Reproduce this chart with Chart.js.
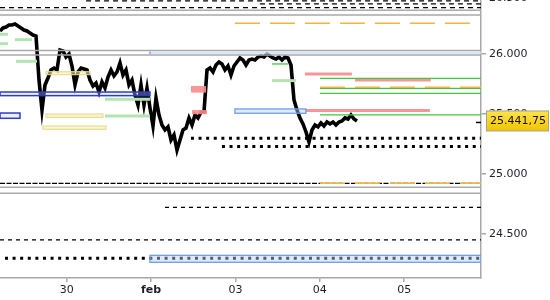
<!DOCTYPE html>
<html>
<head>
<meta charset="utf-8">
<script src="https://cdn.jsdelivr.net/npm/chart.js@4.4.1/dist/chart.umd.min.js"></script>
<style>
  html, body { margin: 0; padding: 0; background: #fff; }
  #wrap { width: 550px; height: 300px; position: relative; }
</style>
</head>
<body>
<div id="wrap"><canvas id="chart" width="550" height="300"></canvas></div>
<script>
// asse x: giorni di contrattazione (0 = 30 gen)
const dayLabels = ['30', 'feb', '03', '04', '05'];
const xMin = -0.79, xMax = 4.91;
const yMin = 24133, yMax = 26450;
const yTicks = [24500, 25000, 25500, 26000];
const topTick = 26500;

// serie prezzi (barre equidistanti)
const barStart = -0.79, barStep = 0.03555;
const prices = [
    26192, 26217, 26225, 26242, 26242, 26250, 26233, 26217, 26200, 26192, 26175, 26158, 26150,
    25783, 25533, 25742, 25800, 25867, 25883, 25867, 26033, 26025, 25975, 26000,
    25900, 25742, 25850, 25883, 25875, 25867, 25783, 25733, 25758, 25683, 25767, 25717, 25808, 25867,
    25817, 25850, 25925, 25825, 25867, 25742, 25783, 25658, 25575, 25742, 25575, 25717, 25550,
    25400, 25633, 25492, 25408, 25367, 25392, 25283, 25325, 25200, 25283, 25367, 25383, 25467, 25408,
    25492, 25467, 25517, 25517,
    25867, 25883, 25850, 25908, 25933, 25917, 25867, 25900, 25825, 25900, 25933, 25967, 25950, 25908,
    25950, 25958, 25950, 25975, 25983, 25975, 26000, 25983, 25967, 25958, 25975, 25950, 25975, 25967,
    25908, 25617, 25533, 25467, 25417, 25350, 25267, 25367, 25408, 25392, 25425, 25400, 25433, 25417,
    25433, 25408, 25433, 25442, 25467, 25458, 25492, 25458, 25441.75
];

// livelli orizzontali [da, a, valore]
const grayLevels = [
    [xMin, xMax, 26364], [xMin, xMax, 26325], [xMin, xMax, 26029],
    [xMin, xMax, 25992], [xMin, xMax, 24889], [xMin, xMax, 24839]
];
const topDashed = [[0.23, xMax, 26442], [2.29, xMax, 26417], [xMin, xMax, 26386]];
const fineDashed = [[xMin, xMax, 24922]];
const dashedLevels = [[1.165, xMax, 24722], [xMin, xMax, 24450]];
const dottedLevels = [[1.473, xMax, 25297], [1.84, xMax, 25228], [-0.731, xMax, 24298]];
const orangeLevels = [[1.994, 4.778, 26256], [3.001, xMax, 25722], [3.001, xMax, 24922]];
const greenLevels = [
    [3.001, xMax, 25797], [3.001, xMax, 25714], [3.001, xMax, 25672],
    [3.001, xMax, 25492], [2.433, 2.622, 25917]
];
const paleGreenLevels = [
    [xMin, -0.696, 26164], [xMin, -0.696, 26086], [-0.613, -0.411, 26119],
    [-0.601, -0.352, 25939], [0.454, 0.987, 25622], [0.454, 0.987, 25483], [2.433, 2.717, 25778]
];
const salmonLevels = [[2.823, 3.38, 25833], [3.416, 4.316, 25783], [2.835, 4.304, 25528]];

// zone [da, a, valore alto, valore basso]
const bandZones = [[0.987, xMax, 26029, 25992]];
const darkBlueZones = [[xMin, 0.987, 25683, 25653], [xMin, -0.553, 25508, 25464]];
const lightBlueZones = [[1.994, 2.835, 25542, 25506], [0.987, xMax, 24322, 24264]];
const yellowZones = [[-0.245, 0.276, 25853, 25828], [-0.245, 0.43, 25500, 25472], [-0.281, 0.466, 25400, 25372]];
const salmonZones = [[1.473, 1.651, 25733, 25678], [1.485, 1.662, 25533, 25498]];

const FONT = 'DejaVu Sans';
const TEXT = '#1e1e2a';
const AXIS = '#a8a8a8';

function fmtThousands(v) {
    return String(v).replace(/\B(?=(\d{3})+(?!\d))/g, '.');
}
function fmtPrice(v) {
    const parts = v.toFixed(2).split('.');
    return fmtThousands(parts[0]) + ',' + parts[1];
}

function segments(list, style) {
    return list.map(([a, b, v]) => Object.assign({
        data: [{ x: a, y: v }, { x: b, y: v }],
        pointRadius: 0,
        borderCapStyle: 'butt',
        fill: false
    }, style));
}

// indice 0 disegnato sopra: livelli prima, prezzo per ultimo
const datasets = [].concat(
    segments(dottedLevels, { borderColor: '#000', borderWidth: 3, borderDash: [3, 4.6] }),
    segments(orangeLevels, { borderColor: '#f4b43a', borderWidth: 1.5, borderDash: [25, 10] }),
    segments(greenLevels, { borderColor: '#46c446', borderWidth: 1.3 }),
    segments(salmonLevels, { borderColor: '#f89696', borderWidth: 3 }),
    segments(paleGreenLevels, { borderColor: '#b2e4b2', borderWidth: 3 }),
    segments(topDashed, { borderColor: '#000', borderWidth: 1.3, borderDash: [5, 4] }),
    segments(fineDashed, { borderColor: '#000', borderWidth: 1.3, borderDash: [5, 1.5] }),
    segments(dashedLevels, { borderColor: '#000', borderWidth: 1.3, borderDash: [4, 4] }),
    segments(grayLevels, { borderColor: '#a9a9a9', borderWidth: 1.5 }),
    [{
        data: prices.map((p, i) => ({ x: barStart + i * barStep, y: p })),
        borderColor: '#000',
        borderWidth: 3.6,
        pointRadius: 0,
        tension: 0,
        borderJoinStyle: 'miter',
        fill: false
    }]
);

const zonesPlugin = {
    id: 'zones',
    afterDatasetsDraw(chart) {
        const { ctx, chartArea, scales } = chart;
        const xs = scales.x, ys = scales.y;
        const rect = z => {
            const x0 = xs.getPixelForValue(z[0]), x1 = xs.getPixelForValue(z[1]);
            const y0 = ys.getPixelForValue(z[2]), y1 = ys.getPixelForValue(z[3]);
            return [x0, y0, x1 - x0, y1 - y0];
        };
        ctx.save();
        ctx.beginPath();
        ctx.rect(chartArea.left, chartArea.top, chartArea.right - chartArea.left, chartArea.bottom - chartArea.top);
        ctx.clip();

        bandZones.forEach(z => {
            const [x, y, w, h] = rect(z);
            ctx.fillStyle = 'rgba(205,220,245,0.75)';
            ctx.fillRect(x, y + 1, w, h - 2);
            ctx.strokeStyle = '#7ea4e6';
            ctx.lineWidth = 1.5;
            ctx.beginPath();
            ctx.moveTo(x, y + 1);
            ctx.lineTo(x, y + h - 1);
            ctx.stroke();
        });
        const boxes = (list, fill, stroke, lw) => list.forEach(z => {
            const [x, y, w, h] = rect(z);
            ctx.fillStyle = fill;
            ctx.fillRect(x, y, w, h);
            if (stroke) {
                ctx.strokeStyle = stroke;
                ctx.lineWidth = lw;
                ctx.strokeRect(x, y, w, h);
            }
        });
        boxes(salmonZones, 'rgba(250,140,140,0.9)', null, 0);
        boxes(yellowZones, 'rgba(245,236,170,0.55)', 'rgba(228,218,140,0.85)', 1.3);
        boxes(darkBlueZones, 'rgba(205,205,245,0.35)', '#2c3ccc', 1.5);
        boxes(lightBlueZones, 'rgba(185,207,245,0.45)', '#6e9de8', 1.3);
        ctx.restore();
    },
    afterDraw(chart) {
        const { ctx, chartArea, scales } = chart;
        const last = prices[prices.length - 1];
        const py = scales.y.getPixelForValue(last);
        ctx.save();
        // tick del prezzo sull'asse
        ctx.strokeStyle = '#000';
        ctx.lineWidth = 1.5;
        ctx.beginPath();
        ctx.moveTo(chartArea.right - 5, py + 1.5);
        ctx.lineTo(chartArea.right, py + 1.5);
        ctx.stroke();
        // etichetta prezzo
        const bx = chartArea.right + 5.5, bw = 62, bh = 20;
        const by = py - 10;
        const g = ctx.createLinearGradient(0, by, 0, by + bh);
        g.addColorStop(0, '#ffe34a');
        g.addColorStop(1, '#f2c400');
        ctx.fillStyle = g;
        ctx.fillRect(bx, by, bw, bh);
        ctx.strokeStyle = '#a0a0a0';
        ctx.lineWidth = 1;
        ctx.strokeRect(bx, by, bw, bh);
        ctx.fillStyle = '#111';
        ctx.font = '11px "' + FONT + '"';
        ctx.textBaseline = 'middle';
        ctx.fillText(fmtPrice(last), bx + 3.5, py + 0.5);
        // etichetta 26.500 tagliata in alto
        ctx.fillStyle = TEXT;
        ctx.fillText(fmtThousands(topTick), chartArea.right + 8, scales.y.getPixelForValue(topTick) + 4);
        ctx.restore();
    }
};

const chart = new Chart(document.getElementById('chart'), {
    type: 'line',
    data: { datasets: datasets },
    options: {
        responsive: false,
        animation: false,
        events: [],
        layout: { padding: 0 },
        plugins: {
            legend: { display: false },
            tooltip: { enabled: false }
        },
        scales: {
            x: {
                type: 'linear',
                min: xMin,
                max: xMax,
                grid: { drawOnChartArea: false, color: AXIS, tickLength: 4, lineWidth: 1.5 },
                border: { color: AXIS, width: 1.5 },
                afterBuildTicks: s => { s.ticks = dayLabels.map((_, i) => ({ value: i })); },
                afterFit: s => { s.height = 22; s.paddingLeft = 0; s.paddingRight = 0; },
                ticks: {
                    autoSkip: false,
                    maxRotation: 0,
                    padding: 2,
                    color: TEXT,
                    font: c => ({ family: FONT, size: 11, weight: (c.tick && c.tick.value === 1) ? 'bold' : 'normal' }),
                    callback: v => dayLabels[v]
                }
            },
            y: {
                position: 'right',
                min: yMin,
                max: yMax,
                grid: { drawOnChartArea: false, color: AXIS, tickLength: 5, lineWidth: 1.5 },
                border: { color: AXIS, width: 1.5 },
                afterBuildTicks: s => { s.ticks = yTicks.map(v => ({ value: v })); },
                afterFit: s => { s.width = 69; s.paddingTop = 0; s.paddingBottom = 0; },
                ticks: {
                    padding: 3,
                    color: TEXT,
                    font: { family: FONT, size: 11 },
                    callback: v => fmtThousands(v)
                }
            }
        }
    },
    plugins: [zonesPlugin]
});
</script>
</body>
</html>
